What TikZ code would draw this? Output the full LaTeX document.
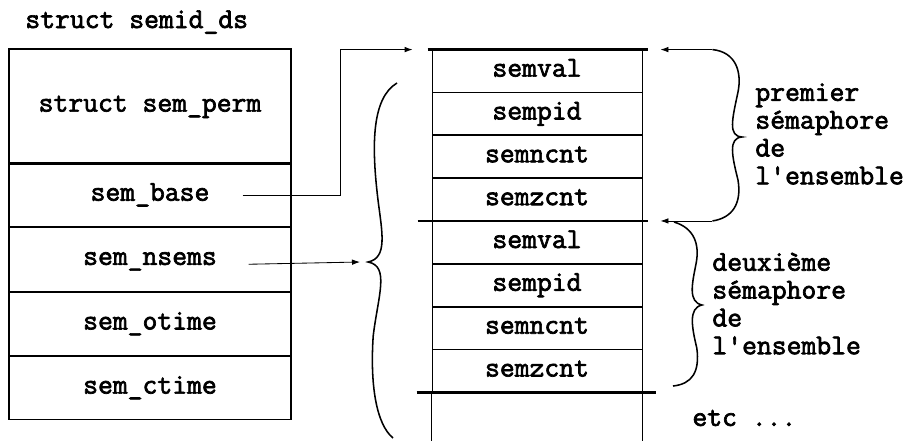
\documentclass[tikz,border=0pt]{standalone}
\usepackage{fontspec}
\setmonofont{Latin Modern Mono}[FakeBold=2.4]
\usetikzlibrary{arrows.meta, positioning}

\begin{document}
\begin{tikzpicture}[>={Latex[length=2mm,width=1.4mm]}, semithick,
      every node/.style={font=\ttfamily\fontsize{20.5}{19.8}\selectfont},
      fld/.style={draw, line width=0.8pt, minimum width=7.05cm, minimum height=1.575cm,
                  inner sep=0pt, text height=12pt, text depth=4pt},
      cell/.style={draw, line width=0.6pt, minimum width=5.25cm, minimum height=1.05cm,
                   inner sep=0pt, text height=12pt, text depth=4pt},
      sep/.style={line width=1.8pt},
      brc/.style={line width=1.1pt},
      note/.style={align=left, anchor=west, inner sep=0pt}]

    \useasboundingbox (0,0) rectangle (22.8,-11.025);

    % === struct semid_ds ===
    \node[anchor=base west, inner sep=0pt] (title) at (0.625,-0.7) {struct semid\_ds};
    \node[fld, minimum height=2.85cm] (perm) at (3.75,-2.65) {struct sem\_perm};
    \node[fld, minimum height=1.55cm, below=0pt of perm] (base) {sem\_base};
    \node[fld, minimum height=1.6cm, below=0pt of base] (nsems) {sem\_nsems};
    \node[fld, below=0pt of nsems] (otime) {sem\_otime};
    \node[fld, below=0pt of otime] (ctime) {sem\_ctime};

    % === semaphore array ===
    \node[cell] (val1) at (13.425,-1.775) {semval};
    \node[cell, below=0pt of val1] (pid1) {sempid};
    \node[cell, below=0pt of pid1] (ncnt1) {semncnt};
    \node[cell, below=0pt of ncnt1] (zcnt1) {semzcnt};
    \node[cell, below=0pt of zcnt1] (val2) {semval};
    \node[cell, below=0pt of val2] (pid2) {sempid};
    \node[cell, below=0pt of pid2] (ncnt2) {semncnt};
    \node[cell, below=0pt of ncnt2] (zcnt2) {semzcnt};
    \draw[line width=0.6pt] (zcnt2.south west) -- ++(0,-1.225);
    \draw[line width=0.6pt] (zcnt2.south east) -- ++(0,-1.225);
    \draw[sep] ([xshift=-0.1cm]val1.north west) -- ([xshift=0.15cm]val1.north east);
    \draw[sep] ([xshift=-0.35cm]val2.north west) -- ([xshift=0.15cm]val2.north east);
    \draw[sep] ([xshift=-0.375cm]zcnt2.south west) -- ([xshift=0.35cm]zcnt2.south east);

    % === pointers ===
    \draw[->] ([xshift=-1.225cm]base.east) -- ++(2.45,0) |- ([xshift=-0.475cm]val1.north west);
    \coordinate (ltip) at (9.2,-6.55);
    \draw[->] ([xshift=-1.075cm,yshift=-0.125cm]nsems.east) -- ([xshift=-0.2cm]ltip);
    \draw[brc] (9.925,-2.075) .. controls (9.3,-2.45) and (9.28,-3.6) .. (9.45,-5.0)
        .. controls (9.55,-5.8) and (9.7,-6.45) .. (ltip)
        .. controls (9.75,-6.65) and (9.45,-7.4) .. (9.33,-8.4)
        .. controls (9.25,-9.6) and (9.4,-10.6) .. (9.825,-10.95);

    % === first / second semaphore ===
    \coordinate (s1top) at ([xshift=1.75cm]val1.north east);
    \coordinate (s1bot) at ([xshift=1.75cm]val2.north east);
    \draw[->] (s1top) -- ([xshift=0.45cm]val1.north east);
    \draw[->] (s1bot) -- ([xshift=0.45cm]val2.north east);
    \draw[brc] (s1top) .. controls (18.4,-1.3) and (18.55,-1.8) .. (18.45,-2.3)
        .. controls (18.3,-3.0) and (18.2,-3.4) .. (18.55,-3.425)
        .. controls (18.2,-3.45) and (18.3,-3.9) .. (18.45,-4.5)
        .. controls (18.55,-5.1) and (18.3,-5.45) .. (s1bot);
    \draw[brc] (16.85,-5.55) .. controls (17.35,-5.7) and (17.5,-6.1) .. (17.4,-6.6)
        .. controls (17.3,-7.1) and (17.2,-7.55) .. (17.55,-7.625)
        .. controls (17.2,-7.7) and (17.3,-8.2) .. (17.42,-8.7)
        .. controls (17.5,-9.3) and (17.3,-9.6) .. (16.825,-9.65);

    \node[note] (first) at (18.875,-3.35) {premier\\sémaphore\\de\\l'ensemble};
    \node[note] (second) at (17.8,-7.59) {deuxième\\sémaphore\\de\\l'ensemble};
    \node[note] (etc) at (17.3,-10.45) {etc ...};

\end{tikzpicture}
\end{document}
